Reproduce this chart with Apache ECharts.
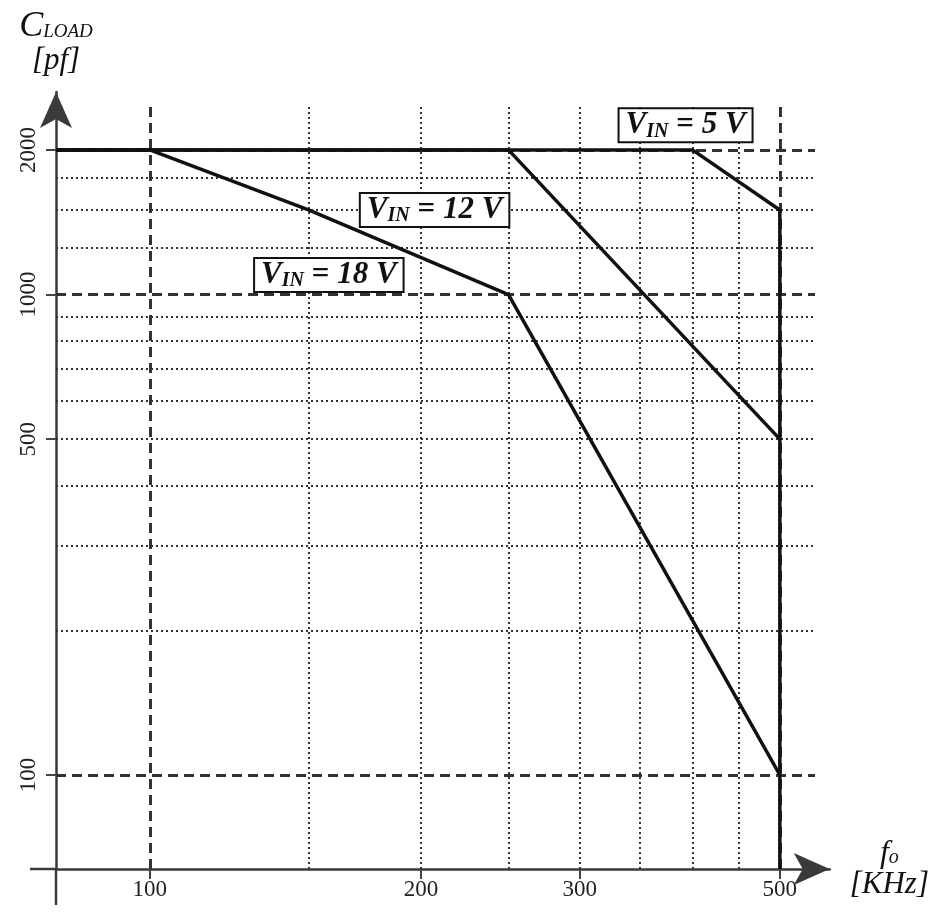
<!DOCTYPE html>
<html>
<head>
<meta charset="utf-8">
<script src="https://cdn.jsdelivr.net/npm/echarts@6/dist/echarts.min.js"></script>
<style>
html, body { margin: 0; padding: 0; background: #fff; }
#chart { width: 932px; height: 912px; }
</style>
</head>
<body>
<div id="chart"></div>
<script>
// axis extents (log axes)
const X_MIN = 78.7, X_MAX = 568;
const Y_MIN = 63.7, Y_MAX = 2640;
const X_GRID_END = 547;   // horizontal grid lines stop here
const Y_GRID_TOP = 2480;  // vertical grid lines stop here

// tick labels
const xTicks = [100, 200, 300, 500];
const yTicks = [100, 500, 1000, 2000];

// grid lines
const xGridDashed = [100, 500];
const xGridDotted = [150, 200, 250, 300, 350, 400, 450];
const yGridDashed = [100, 1000, 2000];
const yGridDotted = [200, 300, 400, 500, 600, 700, 800, 900, 1250, 1500, 1750];

// curves: [f kHz, C pF]
const vin18 = [[X_MIN, 2000], [100, 2000], [150, 1500], [250, 1000], [500, 100]];
const vin12 = [[X_MIN, 2000], [250, 2000], [500, 500]];
const vin5 = [[X_MIN, 2000], [400, 2000], [500, 1500], [500, Y_MIN]];

// curve names and where their boxed labels sit
const curveNames = ['18', '12', '5'];
const labelAnchors = [[158, 1098], [207, 1500], [393, 2250]];

const SERIF = '"Liberation Serif", "DejaVu Serif", serif';
const dotted = { color: '#333', width: 2, type: [2, 3] };
const dashed = { color: '#333', width: 3, type: [10, 6] };

const gridLines = [];
yGridDotted.forEach(v => gridLines.push([{ coord: [X_MIN, v], lineStyle: dotted }, { coord: [X_GRID_END, v] }]));
xGridDotted.forEach(v => gridLines.push([{ coord: [v, Y_MIN], lineStyle: dotted }, { coord: [v, Y_GRID_TOP] }]));
yGridDashed.forEach(v => gridLines.push([{ coord: [X_MIN, v], lineStyle: dashed }, { coord: [X_GRID_END, v] }]));
xGridDashed.forEach(v => gridLines.push([{ coord: [v, Y_MIN], lineStyle: dashed }, { coord: [v, Y_GRID_TOP] }]));

const curveStyle = { color: '#111', width: 3.5 };

const txt = (size, extra) => Object.assign({ fontFamily: SERIF, fontStyle: 'italic', fontSize: size, color: '#111' }, extra || {});

const boxRich = {
  v: txt(31, { fontWeight: 'bold' }),
  s: txt(20, { fontWeight: 'bold', padding: [12, 0, 0, 0] }),
  e: txt(31, { fontWeight: 'bold', fontStyle: 'normal' })
};

const chart = echarts.init(document.getElementById('chart'));
chart.setOption({
  animation: false,
  backgroundColor: '#fff',
  grid: { left: 56, right: 102, top: 92, bottom: 43 },
  xAxis: {
    type: 'log',
    min: X_MIN,
    max: X_MAX,
    name: '{f|f}{o|o}\n{u|[KHz]}',
    nameLocation: 'end',
    nameGap: 20,
    nameTextStyle: {
      rich: {
        f: txt(32, { align: 'center' }),
        o: txt(20, { padding: [8, 0, 0, 0], align: 'center' }),
        u: txt(31)
      }
    },
    axisLine: {
      lineStyle: { color: '#3a3a3a', width: 2.5 },
      symbol: ['none', 'arrow'],
      symbolSize: [24, 36]
    },
    axisTick: { customValues: xTicks, length: 10, lineStyle: { color: '#444', width: 2 } },
    axisLabel: { customValues: xTicks, margin: 9, fontFamily: SERIF, fontSize: 23, color: '#222', formatter: v => String(v) },
    splitLine: { show: false },
    minorTick: { show: false }
  },
  yAxis: {
    type: 'log',
    min: Y_MIN,
    max: Y_MAX,
    name: '{c|C}{s|LOAD}\n{u|[pf]}',
    nameLocation: 'end',
    nameGap: 16,
    nameTextStyle: {
      rich: {
        c: txt(36),
        s: txt(19, { padding: [10, 0, 0, 0] }),
        u: txt(31, { align: 'center' })
      }
    },
    axisLine: {
      lineStyle: { color: '#3a3a3a', width: 2.5 },
      symbol: ['none', 'arrow'],
      symbolSize: [24, 36]
    },
    axisTick: { customValues: yTicks, length: 10, lineStyle: { color: '#444', width: 2 } },
    axisLabel: { customValues: yTicks, rotate: 90, margin: 16, fontFamily: SERIF, fontSize: 23, color: '#222', formatter: v => String(v) },
    splitLine: { show: false },
    minorTick: { show: false }
  },
  graphic: [
    { type: 'line', shape: { x1: 30, y1: 869, x2: 56, y2: 869 }, style: { stroke: '#3a3a3a', lineWidth: 2.5 } },
    { type: 'line', shape: { x1: 56, y1: 869, x2: 56, y2: 905 }, style: { stroke: '#3a3a3a', lineWidth: 2.5 } }
  ],
  series: [
    {
      name: 'grid',
      type: 'line',
      data: [],
      z: 1,
      markLine: { silent: true, symbol: ['none', 'none'], label: { show: false }, data: gridLines }
    },
    { name: 'VIN 18', type: 'line', data: vin18, symbol: 'none', lineStyle: curveStyle, z: 5 },
    { name: 'VIN 12', type: 'line', data: vin12, symbol: 'none', lineStyle: curveStyle, z: 5 },
    { name: 'VIN 5', type: 'line', data: vin5, symbol: 'none', lineStyle: curveStyle, z: 5 },
    {
      name: 'labels',
      type: 'scatter',
      symbolSize: 0,
      z: 6,
      itemStyle: { opacity: 1 },
      data: labelAnchors.map((p, i) => ({ value: p, name: curveNames[i] })),
      label: {
        show: true,
        position: 'inside',
        opacity: 1,
        formatter: p => '{v|V}{s|IN}{e| = }{v|' + p.name + ' V}',
        backgroundColor: '#fff',
        borderColor: '#111',
        borderWidth: 2,
        padding: [0, 6, 0, 6],
        rich: boxRich
      }
    }
  ]
});
</script>
</body>
</html>
